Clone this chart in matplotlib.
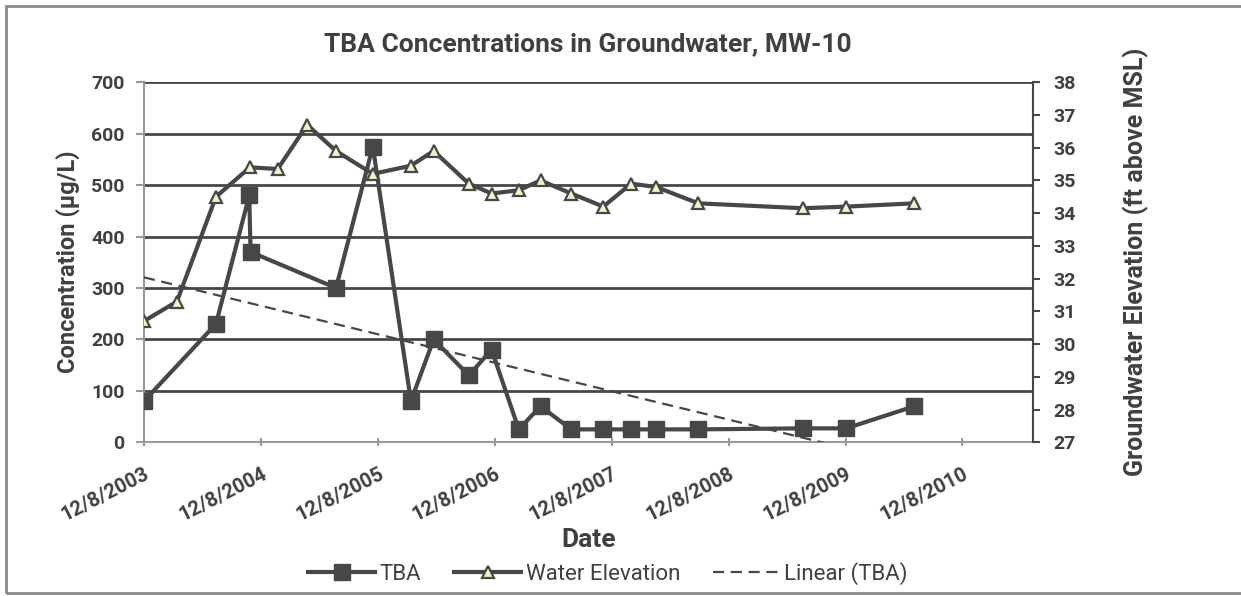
import matplotlib
matplotlib.use('Agg')
import matplotlib.pyplot as plt
import matplotlib.dates as mdates
import numpy as np
import pandas as pd

plt.rcParams['font.family'] = ['Roboto', 'DejaVu Sans']

# TBA concentration (ug/L)
tba_dates = ['2003-12-08', '2004-07-20', '2004-11-01', '2004-11-05', '2005-07-30',
             '2005-11-22', '2006-03-21', '2006-05-31', '2006-09-18', '2006-11-28',
             '2007-02-21', '2007-04-30', '2007-08-04', '2007-11-12', '2008-02-07',
             '2008-04-25', '2008-09-04', '2009-07-28', '2009-12-10', '2010-07-11']
tba = [80, 230, 480, 370, 300, 575, 80, 200, 130, 180,
       25, 70, 25, 25, 25, 25, 25, 27, 27, 70]

# water elevation (ft above MSL)
wl_dates = ['2003-12-08', '2004-03-20', '2004-07-20', '2004-11-03', '2005-01-29',
            '2005-05-01', '2005-07-30', '2005-11-22', '2006-03-21', '2006-05-31',
            '2006-09-18', '2006-11-28', '2007-02-21', '2007-04-30', '2007-08-04',
            '2007-11-12', '2008-02-07', '2008-04-25', '2008-09-04', '2009-07-28',
            '2009-12-10', '2010-07-11']
wl = [30.7, 31.3, 34.5, 35.4, 35.35, 36.7, 35.9, 35.2, 35.45, 35.9,
      34.9, 34.6, 34.7, 35.0, 34.6, 34.2, 34.9, 34.8, 34.3, 34.15,
      34.2, 34.3]

tick_dates = ['2003-12-08', '2004-12-08', '2005-12-08', '2006-12-08',
              '2007-12-08', '2008-12-08', '2009-12-08', '2010-12-08']
tick_labels = ['12/8/2003', '12/8/2004', '12/8/2005', '12/8/2006',
               '12/8/2007', '12/8/2008', '12/8/2009', '12/8/2010']

td = pd.to_datetime(tba_dates)
wd = pd.to_datetime(wl_dates)
tk = pd.to_datetime(tick_dates)

dark = '#474747'
txt = '#404040'

fig = plt.figure(figsize=(12.41, 5.96), dpi=100)
ax = fig.add_axes([0.116, 0.258, 0.716, 0.604])
ax2 = ax.twinx()

# trend line (least squares on the TBA data)
xn = mdates.date2num(td)
p = np.polyfit(xn, tba, 1)
xt = np.array([xn[0], xn[-1]])
ax.plot(xt, np.polyval(p, xt), '--', color=dark, lw=1.6, dashes=(5, 3),
        label='Linear (TBA)', zorder=3)

ltba, = ax.plot(td, tba, '-s', color=dark, lw=3, markersize=11,
                label='TBA', zorder=4)
lwl, = ax2.plot(wd, wl, '-^', color=dark, lw=3, markersize=9,
                markerfacecolor='#f2f2c4', markeredgecolor=dark,
                markeredgewidth=1.6, label='Water Elevation', zorder=4)

ax.set_ylim(0, 700)
ax.set_yticks(range(0, 701, 100))
ax2.set_ylim(27, 38)
ax2.set_yticks(range(27, 39))
ax.set_xlim(pd.Timestamp('2003-12-08'), pd.Timestamp('2011-07-15'))
ax.set_xticks(tk)
ax.set_xticklabels(tick_labels, rotation=27, ha='right', rotation_mode='anchor')

ax.grid(axis='y', color=dark, lw=2)
ax.set_axisbelow(True)
for s in ['top', 'right']:
    ax.spines[s].set_visible(False)
ax.spines['left'].set_color('#999999')
ax.spines['bottom'].set_color('#999999')
ax.spines['left'].set_linewidth(1.5)
ax.spines['bottom'].set_linewidth(1.5)
for s in ['top', 'left', 'bottom']:
    ax2.spines[s].set_visible(False)
ax2.spines['right'].set_color(dark)
ax2.spines['right'].set_linewidth(1.5)

ax.tick_params(axis='y', colors='#999999', labelcolor=txt, labelsize=14, length=6, width=1.5,
               pad=8)
ax.tick_params(axis='x', colors='#999999', labelcolor=txt, labelsize=14.5, length=6, width=1.5,
               direction='inout', pad=13)
ax2.tick_params(axis='y', colors=dark, labelcolor=txt, labelsize=14, length=5, width=1.5,
                pad=10)
for lab in ax.get_xticklabels() + ax.get_yticklabels() + ax2.get_yticklabels():
    lab.set_fontweight('bold')

ax.set_ylabel('Concentration (µg/L)', fontsize=17, fontweight='bold', color=txt, labelpad=8)
ax2.set_ylabel('Groundwater Elevation (ft above MSL)', fontsize=18, fontweight='bold',
               color=txt, labelpad=34)
ax.set_xlabel('Date', fontsize=19, fontweight='bold', color=txt, labelpad=2)
ax.set_title('TBA Concentrations in Groundwater, MW-10', fontsize=19, fontweight='bold',
             color=txt, pad=22)

handles = [ltba, lwl, ax.get_lines()[0]]
fig.legend(handles, ['TBA', 'Water Elevation', 'Linear (TBA)'], loc='center',
           bbox_to_anchor=(0.49, 0.038), ncol=3, frameon=False, fontsize=16,
           handlelength=3.0, columnspacing=1.5, labelcolor=txt, markerscale=1.0,
           handletextpad=0.2)

fig.patches.append(plt.Rectangle((0.005, 0.005), 1.2, 0.985, transform=fig.transFigure,
                                 fill=False, edgecolor='#8a8a8a', lw=2))

fig.savefig('out.png', dpi=100)
